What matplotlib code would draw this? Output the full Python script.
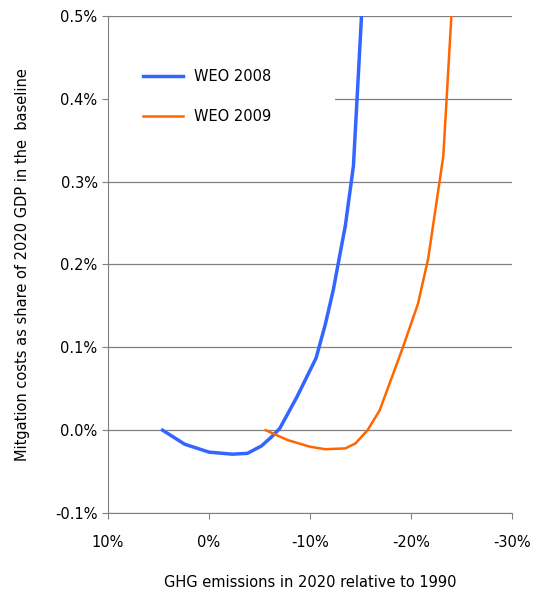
import matplotlib
matplotlib.use("Agg")
import matplotlib.pyplot as plt
from matplotlib.patches import Rectangle

x08 = [4.6, 2.4, 0.0, -2.3, -3.8, -5.2, -6.2, -7.0, -8.7, -10.6, -11.5, -12.3, -13.5, -14.3, -15.1]
y08 = [0.0, -0.017, -0.0265, -0.029, -0.028, -0.019, -0.008, 0.002, 0.04, 0.087, 0.127, 0.169, 0.247, 0.319, 0.5]
x09 = [-5.6, -7.8, -10.0, -11.5, -13.5, -14.5, -15.7, -16.9, -19.2, -20.7, -21.7, -23.2, -24.0]
y09 = [0.0, -0.012, -0.020, -0.023, -0.022, -0.016, 0.0, 0.024, 0.1, 0.153, 0.207, 0.331, 0.5]
xticks = [10, 0, -10, -20, -30]
yticks = [-0.1, 0.0, 0.1, 0.2, 0.3, 0.4, 0.5]

plt.rcParams['font.family'] = ['DejaVu Sans']
fig = plt.figure(figsize=(5.37, 5.92), dpi=100)
ax = fig.add_axes([108/537, 79/592, 404/537, 497/592])
ax.set_xlim(10, -30)
ax.set_ylim(-0.1, 0.5)
for y in yticks:
    ax.axhline(y, color='#808080', lw=0.9, zorder=1)
ax.plot(x08, y08, color='#3366FF', lw=2.5, zorder=3, label='WEO 2008')
ax.plot(x09, y09, color='#FF6600', lw=1.8, zorder=3, label='WEO 2009')
ax.add_patch(Rectangle((0.003, 0.72), 0.56, 0.18, transform=ax.transAxes,
                       facecolor='white', edgecolor='none', zorder=2))
ax.legend(loc='upper left', bbox_to_anchor=(0.055, 0.92), frameon=False,
          fontsize=10.5, handlelength=2.7, labelspacing=1.75)
ax.set_xticks(xticks)
ax.set_xticklabels([f"{v}%" for v in xticks])
ax.set_yticks(yticks)
ax.set_yticklabels([f"{v:.1f}%" for v in yticks])
ax.tick_params(labelsize=10.5, length=4, color='#808080')
ax.tick_params(axis='x', pad=12)
for s in ['top', 'right']:
    ax.spines[s].set_visible(False)
for s in ['left', 'bottom']:
    ax.spines[s].set_color('#808080')
ax.set_xlabel('GHG emissions in 2020 relative to 1990', fontsize=10.5, labelpad=18)
ax.set_ylabel('Mitgation costs as share of 2020 GDP in the  baseline', fontsize=10.5, labelpad=18)
fig.savefig('out.png', dpi=100)
